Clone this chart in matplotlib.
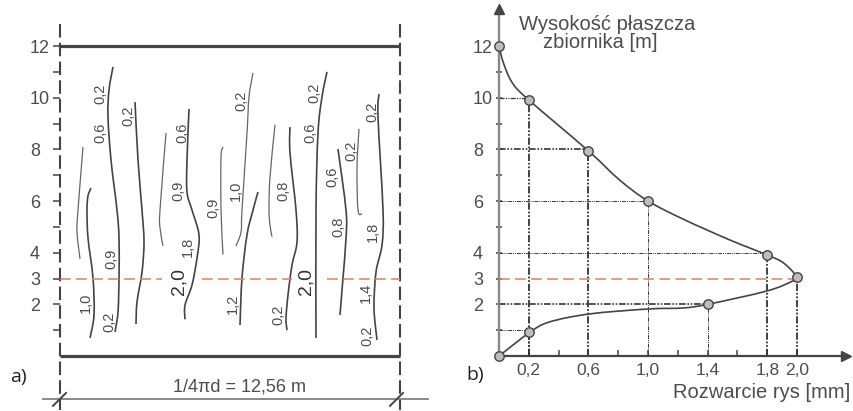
import matplotlib
matplotlib.use("Agg")
import matplotlib.pyplot as plt
from matplotlib.path import Path
from matplotlib.patches import PathPatch

plt.rcParams['font.family'] = ['Liberation Sans', 'DejaVu Sans']

dark = "#444444"
grey_txt = "#4d4d4d"
orange = "#ea7c55"

# panel a) cracks: position along 1/4 circumference (340 units = 12,56 m), height in m
crack_a_x = [23, 18, 17, 20]
crack_a_h = [8.09, 5.65, 4.80, 3.76]
crack_b_x = [31, 28, 27, 28, 33, 34, 30]
crack_b_h = [6.50, 6.20, 5.65, 4.57, 3.02, 1.59, 0.70]
crack_c_x = [53, 49, 48, 51, 57, 59, 59, 58, 55]
crack_c_h = [11.19, 10.30, 9.25, 7.59, 5.65, 4.57, 3.02, 1.70, 0.93]
crack_d_x = [75, 78, 82, 84, 82, 77, 76]
crack_d_h = [9.83, 7.59, 5.65, 4.41, 3.25, 2.09, 1.24]
crack_e_x = [106, 100, 100, 103]
crack_e_h = [8.63, 5.65, 4.96, 4.26]
crack_f_x = [129, 127, 127, 132, 139, 137, 132, 125, 125]
crack_f_h = [9.56, 7.59, 6.35, 5.65, 4.69, 3.79, 2.75, 1.97, 1.42]
crack_g_x = [163, 161, 161, 163]
crack_g_h = [8.09, 7.70, 5.65, 3.93]
crack_h_x = [193, 189, 187, 182, 181, 176]
crack_h_h = [10.96, 10.03, 8.63, 5.65, 4.80, 4.26]
crack_i_x = [198, 193, 187, 182, 180]
crack_i_h = [6.35, 5.65, 4.69, 3.02, 1.20]
crack_j_x = [215, 210, 209, 210, 212]
crack_j_h = [8.95, 6.93, 5.65, 5.07, 4.62]
crack_k_x = [230, 230, 236, 237, 232, 228, 226, 227]
crack_k_h = [8.86, 7.86, 5.65, 4.41, 3.52, 2.36, 1.46, 1.00]
crack_l_x = [267, 262, 258, 256, 256]
crack_l_h = [11.00, 10.03, 8.63, 5.65, 0.70]
crack_m_x = [278, 286, 286, 283, 280]
crack_m_h = [8.01, 5.65, 4.57, 3.02, 1.59]
crack_n_x = [299, 297, 298, 302]
crack_n_h = [8.79, 7.32, 5.65, 5.50]
crack_o_x = [319, 318, 323, 322, 316, 314, 317]
crack_o_h = [10.14, 9.25, 5.65, 4.30, 3.25, 1.86, 0.62]

thin_cracks = [(crack_a_x, crack_a_h), (crack_e_x, crack_e_h), (crack_g_x, crack_g_h),
               (crack_h_x, crack_h_h), (crack_j_x, crack_j_h), (crack_n_x, crack_n_h)]
thick_cracks = [(crack_b_x, crack_b_h), (crack_c_x, crack_c_h), (crack_d_x, crack_d_h),
                (crack_f_x, crack_f_h), (crack_i_x, crack_i_h), (crack_k_x, crack_k_h),
                (crack_l_x, crack_l_h), (crack_m_x, crack_m_h), (crack_o_x, crack_o_h)]

# crack width labels on panel a)
label_x = [40, 40, 68, 122, 118, 153, 176, 181, 223, 250, 254, 272, 291, 312, 313, 306, 307, 278, 26, 51, 49, 128, 173, 218]
label_h = [10.14, 8.63, 9.29, 8.63, 6.40, 5.75, 6.40, 9.87, 6.40, 8.63, 10.17, 6.95, 7.93, 9.45, 4.81, 2.44, 0.77, 4.99, 2.05, 3.75, 1.32, 4.21, 2.00, 1.59]
label_txt = ["0,2", "0,6", "0,2", "0,6", "0,9", "0,9", "1,0", "0,2", "0,8", "0,6", "0,2", "0,6", "0,2", "0,2",
             "1,8", "1,4", "0,2", "0,8", "1,0", "0,9", "0,2", "1,8", "1,2", "0,2"]
big_x = [119, 246]
big_h = [2.90, 2.90]
big_txt = ["2,0", "2,0"]

heights_all = [1, 2, 3, 4, 5, 6, 7, 8, 9, 10, 11, 12]
height_ticks = [2, 3, 4, 6, 8, 10, 12]
height_labels = ["2", "3", "4", "6", "8", "10", "12"]
orange_from = [0, 142, 267]
orange_to = [102, 232, 340]

# panel b) envelope curve
curve_w = [0, 0.03, 0.09, 0.2, 0.6, 0.81, 1.0, 1.235, 1.55, 1.8, 1.91, 2.0, 1.97, 1.8, 1.4, 1.235, 1.0, 0.61, 0.34, 0.21, 0]
curve_h = [12, 11.34, 10.57, 9.91, 7.94, 6.81, 6.0, 5.30, 4.49, 3.91, 3.6, 3.05, 2.9, 2.52, 2.0, 1.86, 1.82, 1.63, 1.32, 0.93, 0]
point_w = [0, 0.2, 0.6, 1.0, 1.8, 2.0, 1.4, 0.2, 0]
point_h = [12, 9.91, 7.94, 6.0, 3.91, 3.05, 2.0, 0.93, 0]
width_ticks = [0.2, 0.4, 0.6, 0.8, 1.0, 1.2, 1.4, 1.6, 1.8, 2.0]
width_labels = ["0,2", "", "0,6", "", "1,0", "", "1,4", "", "1,8", "2,0"]
drop_w = [0.2, 0.6, 1.0, 1.4, 1.8, 2.0, 0.2]
drop_top = [9.91, 7.94, 6.0, 2.0, 3.91, 3.05, 0.93]
drop_lw = [1.3, 1.3, 0.7, 0.7, 1.3, 1.3, 1.3]
hline_h = [10, 8, 6, 4, 2, 1]
hline_w = [0.2, 0.6, 1.0, 1.8, 1.4, 0.2]
hline_lw = [0.9, 1.2, 0.7, 0.7, 1.2, 0.7]


def smooth(xs, ys):
    # catmull-rom through the read points, drawn as bezier segments
    verts = [(xs[0], ys[0])]
    codes = [Path.MOVETO]
    n = len(xs)
    for i in range(n - 1):
        x0, y0 = xs[max(i - 1, 0)], ys[max(i - 1, 0)]
        x1, y1 = xs[i], ys[i]
        x2, y2 = xs[i + 1], ys[i + 1]
        x3, y3 = xs[min(i + 2, n - 1)], ys[min(i + 2, n - 1)]
        verts += [(x1 + (x2 - x0) / 6, y1 + (y2 - y0) / 6),
                  (x2 - (x3 - x1) / 6, y2 - (y3 - y1) / 6),
                  (x2, y2)]
        codes += [Path.CURVE4] * 3
    return Path(verts, codes)


fig = plt.figure(figsize=(8.54, 4.11), dpi=100)
W, H = 854.0, 411.0

# ---- a)
ax = fig.add_axes([60 / W, (H - 356) / H, 340 / W, 310 / H])
ax.set_xlim(0, 340)
ax.set_ylim(0, 12)
ax.patch.set_alpha(0)
for s in ax.spines.values():
    s.set_visible(False)
ax.set_xticks([])
ax.set_yticks(heights_all)
ax.set_yticklabels([height_labels[height_ticks.index(h)] if h in height_ticks else "" for h in heights_all],
                   fontsize=13, color=grey_txt)
ax.tick_params(axis='y', length=5, width=1.1, color=dark, pad=16.6)
for t in ax.get_yticklabels():
    t.set_ha('left')

ax.plot([0, 340], [12, 12], color=dark, lw=2.3, clip_on=False, solid_capstyle='butt')
ax.plot([0, 340], [0, 0], color=dark, lw=2.3, clip_on=False, solid_capstyle='butt')
for xv in [0, 340]:
    ax.plot([xv, xv], [12.85, -2.09], color=dark, lw=1.5, ls=(0, (6.5, 2.5)), clip_on=False)
for a, b in zip(orange_from, orange_to):
    ax.plot([a, b], [3, 3], color=orange, lw=1.1, ls=(0, (7, 3.5)), clip_on=False)

for xs, hs in thin_cracks:
    ax.add_patch(PathPatch(smooth(xs, hs), fill=False, ec="#666666", lw=0.9))
for xs, hs in thick_cracks:
    ax.add_patch(PathPatch(smooth(xs, hs), fill=False, ec=dark, lw=1.2))
for xv, hv, s in zip(label_x, label_h, label_txt):
    ax.text(xv, hv, s, rotation=90, ha='center', va='center', fontsize=10.5, color=grey_txt)
for xv, hv, s in zip(big_x, big_h, big_txt):
    ax.text(xv, hv, s, rotation=90, ha='center', va='center', fontsize=14, color="#333333")

ax.plot([-17, 368], [-1.66, -1.66], color="#808080", lw=1.3, clip_on=False)
for xv in [0, 337]:
    ax.plot([xv - 7, xv + 6], [-1.93, -1.43], color=dark, lw=1.4, clip_on=False)
ax.text(180, -1.2, "1/4\u03c0d = 12,56 m", ha='center', va='center', fontsize=13, color=grey_txt)
fig.text(10 / W, (H - 377) / H, "a)", family='Open Sans', fontsize=14, color="#222222", va='center')

# ---- b)
bx = fig.add_axes([499 / W, (H - 356) / H, 349 / W, 310 / H])
bx.set_xlim(0, 349 / 149)
bx.set_ylim(0, 12)
bx.patch.set_alpha(0)
for s in bx.spines.values():
    s.set_visible(False)
bx.set_xticks(width_ticks)
bx.set_xticklabels(width_labels, fontsize=12.5, color=grey_txt)
bx.tick_params(axis='x', direction='in', length=4, width=1.1, color=dark, pad=5)
bx.set_yticks(heights_all)
bx.set_yticklabels([height_labels[height_ticks.index(h)] if h in height_ticks else "" for h in heights_all],
                   fontsize=13, color=grey_txt)
bx.tick_params(axis='y', direction='inout', length=5, width=1.1, color=dark, pad=16.2)
for t in bx.get_yticklabels():
    t.set_ha('left')

dot = (0, (4, 1, 1, 1, 1, 1))
for xv, top, lw in zip(drop_w, drop_top, drop_lw):
    bx.plot([xv, xv], [0, top], color="#333333", lw=lw, ls=dot, zorder=2)
for hv, xv, lw in zip(hline_h, hline_w, hline_lw):
    bx.plot([0, xv], [hv, hv], color="#333333", lw=lw, ls=dot, zorder=2)
bx.plot([0, 2.0], [3, 3], color=orange, lw=1.1, ls=(0, (7, 3.5)), zorder=3)

bx.plot([0, 0], [0, 13.3], color="#888888", lw=1.7, clip_on=False, zorder=3)
bx.plot([0, 2.32], [0, 0], color=dark, lw=1.6, clip_on=False, zorder=3)
bx.plot([0], [13.45], marker='^', ms=6.5, color=dark, clip_on=False, zorder=3)
bx.plot([2.33], [0], marker='>', ms=6.5, color=dark, clip_on=False, zorder=3)

bx.add_patch(PathPatch(smooth(curve_w, curve_h), fill=False, ec=dark, lw=1.2, zorder=4))
bx.plot(point_w, point_h, ls='none', marker='o', ms=6.8, mfc="#bdbdbd", mec=dark, mew=1.0,
        clip_on=False, zorder=5)

bx.text(0.725, 12.85, "Wysoko\u015b\u0107 p\u0142aszcza", ha='center', va='center', fontsize=14.5, color=grey_txt)
bx.text(0.68, 12.12, "zbiornika [m]", ha='center', va='center', fontsize=14.5, color=grey_txt)
bx.text(2.36, -1.43, "Rozwarcie rys [mm]", ha='right', va='center', fontsize=14.5, color=grey_txt)
fig.text(466 / W, (H - 375) / H, "b)", family='Open Sans', fontsize=14, color="#222222", va='center')

fig.savefig("out.png", dpi=100)
